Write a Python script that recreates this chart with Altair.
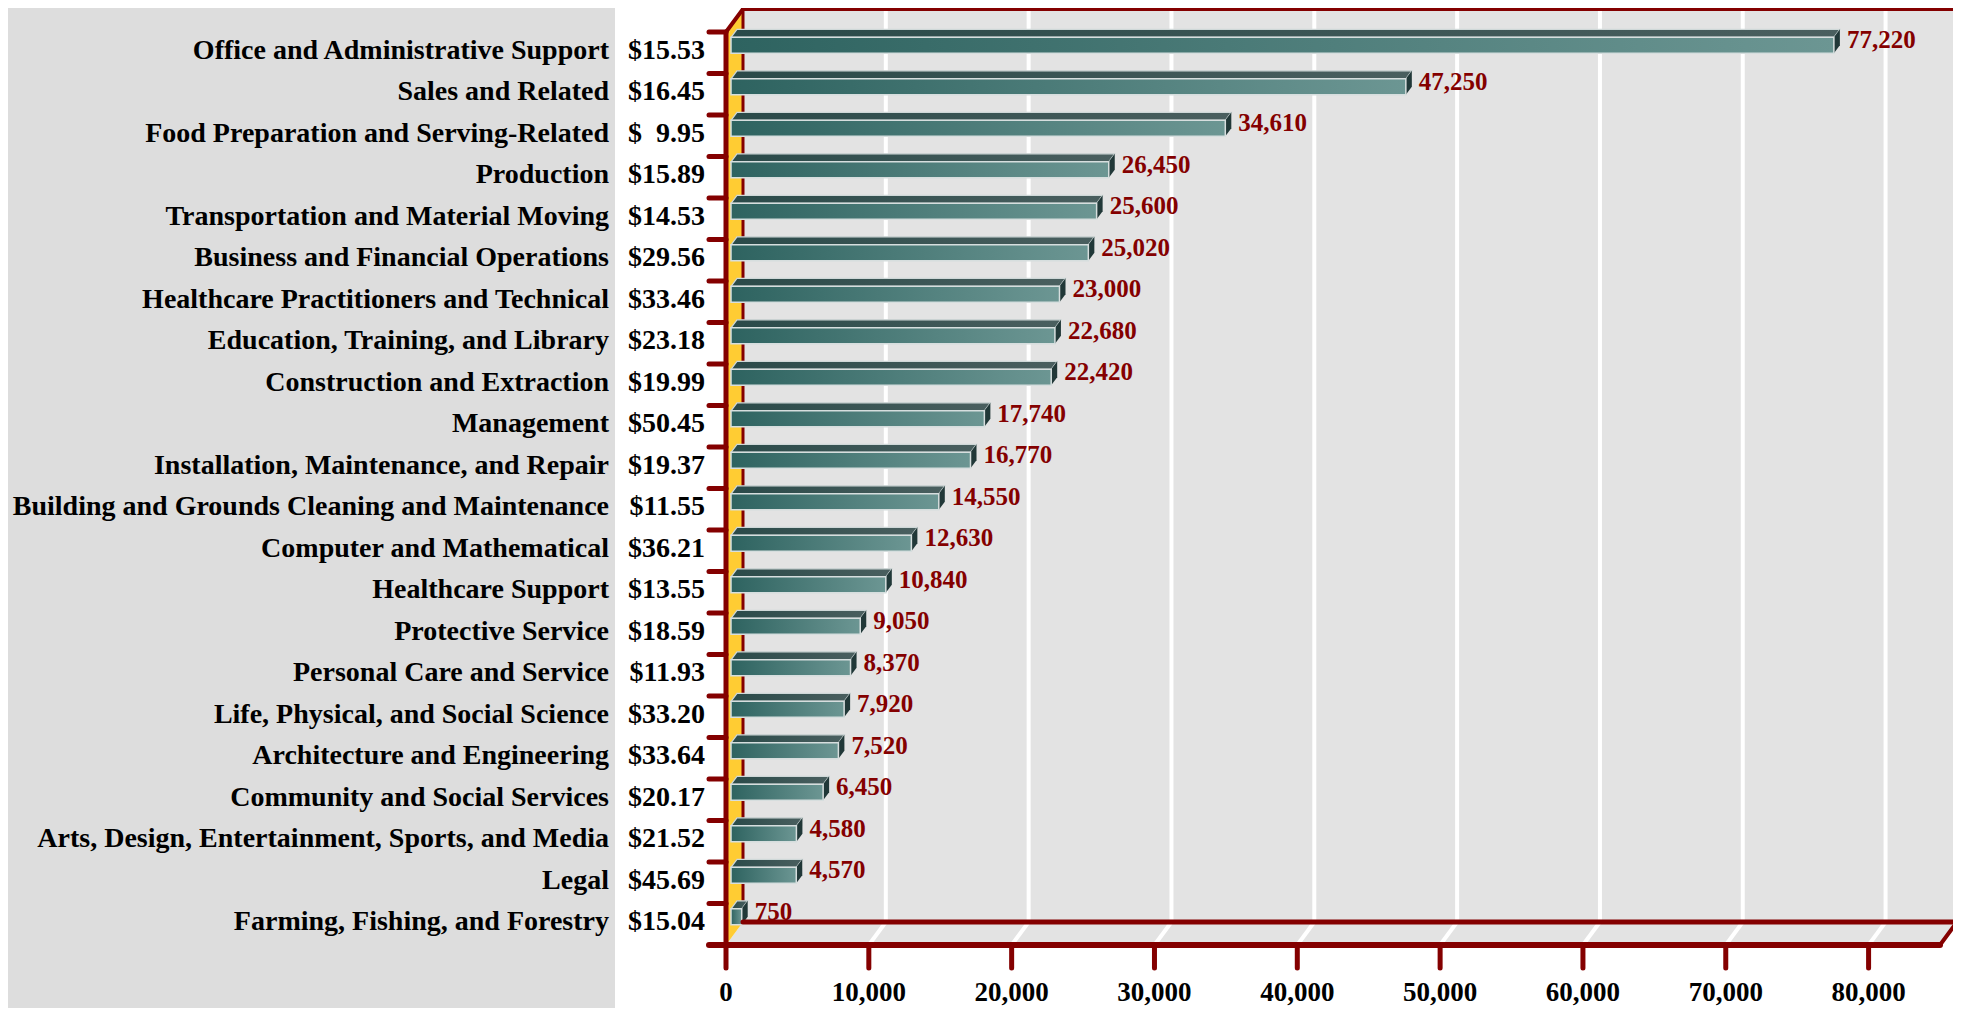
import altair as alt
import pandas as pd

# ---------------- data ----------------
categories = [
    "Office and Administrative Support", "Sales and Related",
    "Food Preparation and Serving-Related", "Production",
    "Transportation and Material Moving", "Business and Financial Operations",
    "Healthcare Practitioners and Technical", "Education, Training, and Library",
    "Construction and Extraction", "Management",
    "Installation, Maintenance, and Repair",
    "Building and Grounds Cleaning and Maintenance",
    "Computer and Mathematical", "Healthcare Support", "Protective Service",
    "Personal Care and Service", "Life, Physical, and Social Science",
    "Architecture and Engineering", "Community and Social Services",
    "Arts, Design, Entertainment, Sports, and Media", "Legal",
    "Farming, Fishing, and Forestry",
]
wages = [15.53, 16.45, 9.95, 15.89, 14.53, 29.56, 33.46, 23.18, 19.99, 50.45,
         19.37, 11.55, 36.21, 13.55, 18.59, 11.93, 33.20, 33.64, 20.17, 21.52,
         45.69, 15.04]
employment = [77220, 47250, 34610, 26450, 25600, 25020, 23000, 22680, 22420,
              17740, 16770, 14550, 12630, 10840, 9050, 8370, 7920, 7520, 6450,
              4580, 4570, 750]
x_ticks = [0, 10000, 20000, 30000, 40000, 50000, 60000, 70000, 80000]
x_tick_labels = ["0", "10,000", "20,000", "30,000", "40,000", "50,000",
                 "60,000", "70,000", "80,000"]

# ---------------- layout ----------------
W, H = 1945, 1000
X_MAX = 85000
X_RANGE = [718, 1932]
N = len(categories)
Y_RANGE = [24, 937]
PPX = (X_RANGE[1] - X_RANGE[0]) / X_MAX       # px per value unit
PPY = (Y_RANGE[1] - Y_RANGE[0]) / N           # px per row
DX = 17 / PPX          # wall depth (value units)
DY = 23 / PPY          # wall depth (rows)
BX0 = 5 / PPX          # bar front face offset
BDX = 6 / PPX          # bar depth
BDY = 8 / PPY
FACE_T, FACE_B = 0.128, 0.513

DARK_RED = "#840000"
FONT = "Liberation Serif"

xs = alt.Scale(domain=[0, X_MAX], range=X_RANGE, nice=False, zero=False)
ys = alt.Scale(domain=[0, N], range=Y_RANGE, nice=False, zero=False)


def X(f):
    return alt.X(f, type="quantitative", scale=xs, axis=None)


def Y(f):
    return alt.Y(f, type="quantitative", scale=ys, axis=None)


def X2(f):
    return alt.X2(f)


def Y2(f):
    return alt.Y2(f)


# ---------------- background pieces ----------------
panel = alt.Chart(pd.DataFrame({"a": [0]})).mark_rect(color="#dddddd").encode(
    x=alt.value(0), x2=alt.value(607), y=alt.value(0), y2=alt.value(H))

wall = alt.Chart(pd.DataFrame({"x": [DX], "x2": [X_MAX + DX],
                               "y": [-DY], "y2": [N - DY]})).mark_rect(
    color="#e3e3e3").encode(x=X("x"), x2=X2("x2"), y=Y("y"), y2=Y2("y2"))

floor = alt.Chart(pd.DataFrame({"y": [N - DY, N], "x": [DX, 0],
                                "x2": [X_MAX + DX, X_MAX]})).mark_area(
    orient="horizontal", color="#e3e3e3").encode(
    y=Y("y"), x=X("x"), x2=X2("x2"))

grid_back = alt.Chart(pd.DataFrame({"x": [t + DX for t in x_ticks[1:]]})).mark_rule(
    color="white", strokeWidth=4).encode(
    x=X("x"), y=alt.Y("y:Q", scale=ys, axis=None), y2=alt.Y2("y2:Q")
).transform_calculate(y=str(-DY), y2=str(N - DY))

grid_floor = alt.Chart(pd.DataFrame({"x": x_ticks[1:],
                                     "x2": [t + DX for t in x_ticks[1:]]})).mark_rule(
    color="white", strokeWidth=4).encode(
    x=X("x"), x2=X2("x2"), y=alt.Y("y:Q", scale=ys, axis=None), y2=alt.Y2("y2:Q")
).transform_calculate(y=str(N), y2=str(N - DY))

side = alt.Chart(pd.DataFrame({"x": [0, DX], "y": [0, -DY],
                               "y2": [N, N - DY]})).mark_area(
    orient="vertical", color="#ffcc33").encode(
    x=X("x"), y=Y("y"), y2=Y2("y2"))

back_left = alt.Chart(pd.DataFrame({"x": [DX], "y": [-DY], "y2": [N - DY]})).mark_rule(
    color=DARK_RED, strokeWidth=3).encode(x=X("x"), y=Y("y"), y2=Y2("y2"))

# ---------------- bars ----------------
rows = pd.DataFrame({"cat": categories, "v": employment,
                     "i": list(range(N))})
rows["x0"] = BX0
rows["x1"] = rows["v"] + BX0
rows["yt"] = rows["i"] + FACE_T
rows["yb"] = rows["i"] + FACE_B

front_grad = alt.LinearGradient(
    gradient="linear", x1=0, x2=1, y1=0, y2=0,
    stops=[alt.GradientStop(color="#2e6360", offset=0),
           alt.GradientStop(color="#6c9693", offset=1)])
top_grad = alt.LinearGradient(
    gradient="linear", x1=0, x2=1, y1=0, y2=0,
    stops=[alt.GradientStop(color="#2a4a49", offset=0),
           alt.GradientStop(color="#4a5f5f", offset=1)])

top_rows = []
end_rows = []
for r in rows.itertuples():
    top_rows.append({"cat": r.cat, "y": r.yt, "x": r.x0, "x2": r.x1})
    top_rows.append({"cat": r.cat, "y": r.yt - BDY, "x": r.x0 + BDX,
                     "x2": r.x1 + BDX})
    end_rows.append({"cat": r.cat, "x": r.x1, "y": r.yt, "y2": r.yb})
    end_rows.append({"cat": r.cat, "x": r.x1 + BDX, "y": r.yt - BDY,
                     "y2": r.yb - BDY})

bar_top = alt.Chart(pd.DataFrame(top_rows)).mark_area(
    orient="horizontal", fill=top_grad, stroke="#cfd8d8", strokeWidth=1.2).encode(
    y=Y("y"), x=X("x"), x2=X2("x2"), detail="cat:N")

bar_end = alt.Chart(pd.DataFrame(end_rows)).mark_area(
    orient="vertical", color="#213838").encode(
    x=X("x"), y=Y("y"), y2=Y2("y2"), detail="cat:N")

bar_front = alt.Chart(rows).mark_rect(
    fill=front_grad, stroke="#d6dede", strokeWidth=1.5).encode(
    x=X("x0"), x2=X2("x1"), y=Y("yt"), y2=Y2("yb"))

# ---------------- frame lines ----------------
segs = []
segs.append((0, 0, DX, -DY, 4))                       # top-left diagonal
segs.append((DX, -DY, X_MAX + DX, -DY, 4))            # back top
segs.append((X_MAX + DX, -DY, X_MAX + DX, N - DY, 4)) # back right
segs.append((DX, N - DY, X_MAX + DX, N - DY, 5))      # back bottom
segs.append((X_MAX, N, X_MAX + DX, N - DY, 4))        # floor right edge
segs.append((-DX, N, X_MAX, N, 6))                    # front bottom
segs.append((0, 0, 0, N + DY, 5))                     # front axis
for k in range(N):
    segs.append((-DX, k, 0, k, 5))                    # left ticks
for t in x_ticks[1:]:
    segs.append((t, N, t, N + DY, 5))                 # bottom ticks
seg_df = pd.DataFrame(segs, columns=["x", "y", "x2", "y2", "w"])

frame = alt.Chart(seg_df).mark_rule(color=DARK_RED, strokeCap="round").encode(
    x=X("x"), y=Y("y"), x2=X2("x2"), y2=Y2("y2"),
    strokeWidth=alt.StrokeWidth("w:Q", scale=None))

# ---------------- text ----------------
lab = pd.DataFrame({
    "cat": categories,
    "wage": ["$" + f"{w:.2f}".rjust(5, "#").replace("#", "\u00a0\u00a0") for w in wages],
    "ty": [i + 0.45 for i in range(N)],
    "vy": [i + 0.2 for i in range(N)],
    "v": employment,
    "vl": [f"{v:,}" for v in employment],
})

cat_text = alt.Chart(lab).mark_text(
    align="right", baseline="middle", font=FONT, fontSize=28,
    fontWeight="bold", color="black").encode(
    x=alt.value(601), y=Y("ty"), text="cat:N")

wage_text = alt.Chart(lab).mark_text(
    align="right", baseline="middle", font=FONT, fontSize=28,
    fontWeight="bold", color="black").encode(
    x=alt.value(697), y=Y("ty"), text="wage:N")

val_text = alt.Chart(lab).mark_text(
    align="left", baseline="middle", font=FONT, fontSize=25, dx=18,
    fontWeight="bold", color=DARK_RED).encode(
    x=X("v"), y=Y("vy"), text="vl:N")

tick_df = pd.DataFrame({"t": x_ticks, "lab": x_tick_labels,
                        "y": [N + 2 * DY + 0.05] * len(x_ticks)})
tick_text = alt.Chart(tick_df).mark_text(
    align="center", baseline="middle", font=FONT, fontSize=27,
    fontWeight="bold", color="black").encode(
    x=X("t"), y=Y("y"), text="lab:N")

chart = alt.layer(
    panel, wall, floor, grid_back, grid_floor, side, back_left,
    bar_top, bar_end, bar_front, frame,
    cat_text, wage_text, val_text, tick_text,
).properties(
    width=W, height=H,
    autosize=alt.AutoSizeParams(type="none"),
    padding=0,
).configure_view(stroke=None)

chart.save("out.html", embed_options={"renderer": "svg", "actions": False})
